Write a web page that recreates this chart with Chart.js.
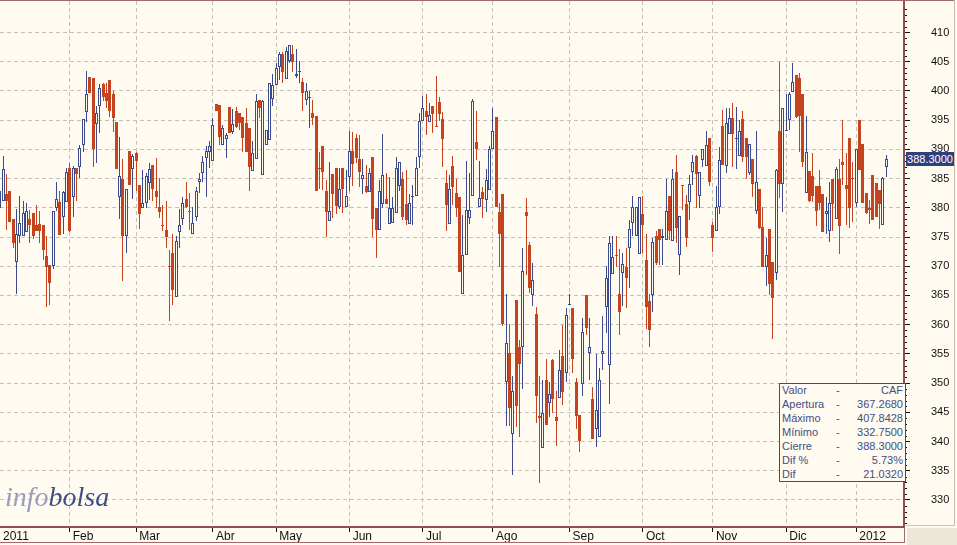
<!DOCTYPE html>
<html lang="es">
<head>
<meta charset="utf-8">
<title>CAF - infobolsa</title>
<style>
  html, body { margin: 0; padding: 0; background: #fffbf0; }
  #wrap { position: relative; width: 957px; height: 545px; overflow: hidden; background: #fffbf0; font-family: "Liberation Sans", Arial, sans-serif; }
  #grafico { position: absolute; left: 0; top: 0; }
  #marco-sup { position: absolute; left: 0; top: 0; width: 955px; height: 1px; background: #a06a6a; }
  #marco-der { position: absolute; left: 954px; top: 0; width: 1px; height: 526px; background: #c8b8a8; }
  #marco-inf { position: absolute; left: 906px; top: 525px; width: 49px; height: 1px; background: #c8c4b8; }
  #esquina { position: absolute; left: 907px; top: 528px; width: 50px; height: 17px; background: #ebe8d8; }
  #pie { position: absolute; left: 0; top: 542px; width: 905px; height: 1px; background: #a06a6a; }
  #pie-der { position: absolute; left: 904px; top: 527px; width: 1px; height: 16px; background: #a06a6a; }
  #precio { position: absolute; left: 906px; top: 152px; width: 48px; height: 14px; line-height: 14px; background: #2f3f80; color: #fff; font-size: 11px; text-align: center; }
  #ficha { position: absolute; left: 779px; top: 383px; width: 125px; height: 97px; border: 1px solid #3b4a8a; background: #fffbf0; color: #454d82; font-size: 11px; }
  #ficha div { position: relative; top: -1px; height: 14px; line-height: 14px; }
  #ficha .n { position: absolute; left: 2px; }
  #ficha .g { position: absolute; left: 56px; }
  #ficha .v { position: absolute; right: 2px; }
  #marca { position: absolute; left: 5px; top: 480px; font-family: "Liberation Serif", serif; font-style: italic; font-size: 28px; line-height: 34px; }
  #marca .a { color: #9a9cc0; }
  #marca .b { color: #3d4f86; }
</style>
</head>
<body>
<div id="wrap">
  <canvas id="grafico" width="957" height="545"></canvas>
  <div id="esquina"></div>
  <div id="marco-sup"></div>
  <div id="marco-der"></div>
  <div id="marco-inf"></div>
  <div id="pie"></div>
  <div id="pie-der"></div>
  <div id="precio">388.3000</div>
  <div id="ficha"></div>
  <div id="marca"><span class="a">info</span><span class="b">bolsa</span></div>
</div>
<script src="https://cdn.jsdelivr.net/npm/chart.js@4/dist/chart.umd.min.js"></script>
<script>
const opens = [
  380.0,381.1,382.4,382.9,378.0,370.7,375.1,375.2,375.8,378.0,
  379.1,377.1,377.2,377.1,371.8,370.2,370.1,379.9,381.0,378.4,
  381.0,386.8,381.9,386.8,387.0,390.7,396.4,402.4,402.2,394.3,
  397.5,401.2,399.6,401.8,399.5,394.7,381.9,384.9,375.1,389.7,
  386.6,389.3,383.9,379.9,380.8,384.3,387.3,382.8,380.2,377.0,
  376.2,370.1,372.2,364.8,375.9,378.0,381.5,379.4,375.5,378.5,
  384.5,386.0,388.6,389.6,388.0,397.7,397.6,390.7,391.7,397.3,
  393.0,396.5,396.3,395.5,394.6,393.6,386.3,388.4,398.4,385.7,
  390.7,391.6,398.6,401.0,404.1,406.4,402.1,405.2,406.4,402.5,
  403.3,401.6,398.4,398.8,396.2,395.7,386.8,390.6,382.8,377.7,
  385.8,386.8,380.1,386.8,380.1,385.3,389.7,392.0,388.3,384.9,
  383.7,382.7,388.7,379.9,376.2,380.7,381.5,377.2,377.4,379.1,
  383.8,384.9,380.7,377.2,382.0,382.0,388.7,394.8,396.5,394.7,
  397.4,394.0,398.1,395.2,384.2,377.2,387.2,382.5,381.8,365.2,
  372.0,378.3,382.0,391.3,380.2,382.7,381.3,383.1,390.1,395.6,
  379.2,382.3,350.2,355.2,341.2,364.2,356.1,356.1,379.2,373.6,
  365.1,361.9,344.4,338.8,350.6,346.6,353.9,344.2,347.4,354.7,
  351.8,363.4,362.8,350.2,344.5,349.8,365.0,355.2,347.2,342.2,
  340.8,354.9,363.1,353.1,368.6,372.0,365.2,368.9,369.8,373.2,
  377.4,375.1,372.1,379.0,371.0,364.1,365.1,375.1,376.3,374.9,
  374.5,382.1,374.3,386.1,372.0,383.9,380.6,381.0,386.1,388.8,
  382.1,388.1,387.1,391.9,377.0,376.1,380.1,394.0,387.1,392.6,
  395.3,391.7,388.9,395.2,391.9,386.0,388.3,379.5,383.2,376.7,
  369.9,376.3,370.7,368.9,393.1,384.0,393.1,395.0,399.9,402.7,
  402.3,399.4,382.5,386.3,385.4,383.8,383.8,382.3,378.9,376.1,
  384.9,378.0,384.9,387.9,383.9,391.9,385.1,380.9,395.0,391.0,
  382.6,380.0,385.7,384.3,383.0,377.1,387.0
];
const highs = [
  384.0,388.8,385.8,382.9,378.0,379.8,382.0,381.2,380.9,379.6,
  379.1,380.5,379.5,377.1,375.1,370.2,379.4,384.4,382.8,382.8,
  386.8,387.6,387.2,386.8,390.8,395.2,403.4,402.4,402.2,397.4,
  401.2,401.3,401.3,401.8,400.0,394.7,392.1,388.3,383.2,389.7,
  389.2,389.5,383.9,386.4,385.9,387.6,387.3,388.5,385.1,380.5,
  381.1,372.8,375.6,375.2,379.8,381.8,384.4,382.6,380.2,383.6,
  386.0,388.8,390.5,391.5,395.3,397.7,397.6,394.2,392.8,397.3,
  396.9,397.3,396.3,395.5,397.0,393.6,391.5,399.5,398.4,398.5,
  393.3,401.3,402.9,404.8,406.6,406.6,407.5,407.8,407.8,407.1,
  405.2,402.2,401.3,400.0,398.5,395.7,389.6,390.6,384.8,387.8,
  385.8,386.8,386.8,386.8,386.5,393.1,392.9,392.7,392.4,388.3,
  387.3,386.8,388.7,379.9,384.8,392.7,386.0,385.2,381.9,388.7,
  387.8,386.2,386.5,382.4,383.9,388.7,396.2,399.2,399.5,397.9,
  397.4,402.5,398.9,396.4,386.5,385.6,388.9,384.9,381.8,378.8,
  388.0,386.0,398.7,396.6,388.0,383.5,386.6,390.6,397.0,395.6,
  380.8,382.3,365.2,360.1,351.2,364.3,357.4,373.2,381.6,374.2,
  370.6,363.1,351.2,350.6,354.1,350.1,354.2,348.6,355.6,359.9,
  362.8,365.3,362.8,350.8,344.5,361.2,365.0,361.1,349.3,354.9,
  352.6,361.4,370.0,375.2,375.2,375.2,372.9,372.3,373.2,377.9,
  382.0,380.2,381.9,382.1,375.5,365.2,374.9,376.0,376.3,376.3,
  385.0,382.1,386.6,389.0,378.6,383.9,382.2,385.6,389.0,389.0,
  386.2,390.0,393.1,391.9,377.6,383.7,390.4,396.8,397.0,397.0,
  397.9,397.2,395.0,396.6,391.9,391.0,388.3,393.1,383.2,380.1,
  374.9,376.3,370.7,386.7,405.0,397.0,399.4,399.9,404.8,402.7,
  403.0,399.4,395.7,386.3,389.3,383.8,386.5,382.3,381.8,384.4,
  384.9,386.9,388.4,395.0,389.3,391.9,387.9,390.0,395.0,391.0,
  382.6,381.3,385.7,384.3,383.0,385.3,389.0
];
const lows = [
  379.5,381.1,376.2,377.5,373.1,365.3,374.0,375.1,375.8,374.0,
  374.6,376.1,374.0,371.0,363.0,363.4,369.5,379.4,375.3,375.5,
  381.0,375.9,378.4,381.1,385.1,389.6,394.7,399.6,387.0,387.7,
  392.8,398.2,397.0,395.5,393.0,386.6,378.0,367.4,372.3,383.9,
  381.5,382.9,376.4,379.9,379.9,381.4,381.2,379.9,378.2,376.1,
  373.1,360.7,363.4,364.8,373.2,377.1,379.9,376.2,375.5,377.8,
  382.5,384.5,381.9,386.8,388.0,396.5,390.8,390.7,388.6,392.8,
  392.7,393.6,393.3,389.6,389.6,382.9,386.3,388.4,395.4,385.7,
  390.7,391.6,397.4,401.0,401.8,401.3,402.1,404.8,403.3,402.2,
  401.4,396.5,397.6,393.6,394.2,382.8,383.3,383.1,375.0,377.7,
  378.2,379.0,379.8,379.1,380.1,382.8,383.7,387.6,383.6,382.3,
  382.5,382.7,375.0,371.4,376.2,379.9,380.7,377.2,377.4,379.1,
  382.8,377.9,377.1,377.2,377.1,382.0,386.8,394.8,392.5,394.7,
  392.8,393.9,394.9,387.0,376.1,377.2,380.5,378.5,369.0,365.2,
  372.0,377.3,382.0,388.2,380.2,378.3,379.2,383.1,390.1,380.2,
  369.9,359.7,342.6,342.6,334.3,342.4,340.8,349.0,368.5,365.4,
  363.2,343.2,332.9,338.8,342.9,344.2,344.8,339.2,347.4,346.3,
  350.2,363.4,351.7,342.1,338.2,347.8,358.2,350.5,340.5,339.0,
  340.8,352.2,358.6,346.4,368.6,369.8,358.2,363.2,362.9,366.3,
  375.2,375.1,372.1,372.3,359.3,356.2,362.2,370.2,370.2,370.2,
  374.5,374.5,374.3,374.0,368.5,379.7,373.3,377.9,383.9,380.0,
  380.0,387.0,387.1,383.7,372.5,376.1,379.0,387.3,386.0,392.6,
  387.0,386.7,388.9,387.9,384.9,385.6,381.9,379.0,376.3,369.9,
  366.6,365.0,357.6,367.7,381.6,379.3,393.1,393.4,399.9,395.3,
  389.6,387.0,382.5,381.0,381.0,376.9,379.6,375.9,375.6,374.2,
  376.1,378.0,372.1,383.9,377.0,376.6,377.6,380.1,386.5,380.9,
  379.0,377.2,377.9,378.5,376.4,377.1,385.3
];
const closes = [
  382.9,386.6,381.2,377.5,374.0,375.5,377.4,379.1,379.4,377.0,
  375.2,376.1,376.1,372.8,369.9,367.2,379.4,381.5,375.4,382.7,
  386.1,376.1,386.8,385.8,390.3,395.2,399.4,399.7,390.1,396.2,
  400.5,399.0,398.2,396.5,395.3,386.6,385.5,375.1,383.2,383.9,
  388.8,388.0,378.9,380.8,385.5,386.6,383.3,381.9,379.2,376.9,
  375.0,369.9,365.9,374.4,377.0,380.9,380.1,379.2,377.4,382.9,
  384.9,387.8,389.7,390.5,394.1,396.5,392.1,393.6,392.4,392.8,
  394.3,393.9,394.6,391.9,389.6,386.9,389.3,398.3,397.0,398.3,
  393.3,401.3,401.0,404.0,406.4,403.3,406.9,407.8,404.9,402.9,
  403.4,399.7,400.0,398.9,395.4,382.8,386.7,386.1,379.2,379.4,
  382.3,380.3,383.3,383.3,382.0,389.7,387.5,388.5,386.2,385.7,
  382.7,385.9,378.0,376.2,382.8,385.7,380.7,379.9,379.9,386.8,
  387.8,378.5,377.9,380.8,382.1,386.8,394.8,397.0,395.6,395.9,
  396.1,393.9,396.1,391.7,380.5,383.3,383.5,379.9,369.0,372.0,
  379.6,379.7,398.2,390.0,381.7,381.5,384.8,390.1,393.1,380.2,
  375.6,360.1,356.9,345.7,348.6,346.0,353.3,369.1,378.6,366.3,
  367.7,347.8,344.0,344.8,342.9,348.1,347.3,343.5,352.2,348.5,
  361.7,363.6,354.2,344.4,340.1,358.8,359.4,356.1,340.5,345.4,
  350.6,355.5,368.0,374.0,371.5,371.8,362.2,370.4,368.0,376.3,
  380.2,380.2,381.9,377.1,363.0,359.1,374.1,370.5,374.5,375.2,
  379.5,376.0,385.0,376.6,378.6,383.8,374.9,384.0,387.8,385.8,
  386.2,390.0,390.7,384.5,374.9,380.1,388.1,387.4,394.6,395.3,
  392.6,392.0,393.1,388.7,388.7,391.0,384.0,384.5,376.5,369.9,
  372.0,366.9,364.5,386.4,384.0,397.0,393.4,399.5,401.6,395.6,
  395.8,387.9,389.5,381.2,382.1,379.5,380.9,375.9,379.5,380.9,
  380.7,386.6,376.9,387.4,383.3,380.0,385.0,390.0,386.5,380.9,
  379.1,379.6,377.9,378.5,380.6,385.1,388.3
];

// indice de la primera sesion de cada mes
const monthStarts = [0.1, 21, 41, 64, 83, 105, 127, 148, 171, 193, 214, 236, 257];
const monthLabels = ["2011", "Feb", "Mar", "Abr", "May", "Jun", "Jul", "Ago", "Sep", "Oct", "Nov", "Dic", "2012"];
const priceTicks = [330, 335, 340, 345, 350, 355, 360, 365, 370, 375, 380, 385, 390, 395, 400, 405, 410];

const summaryNames = ["Valor", "Apertura", "Máximo", "Mínimo", "Cierre", "Dif %", "Dif"];
const summaryValues = ["CAF", "367.2680", "407.8428", "332.7500", "388.3000", "5.73%", "21.0320"];

const BLUE = "#3b4a8a";
const ORANGE = "#c5441f";
const CREAM = "#fffbf0";
const AXIS = "#8f4f4f";
const GRID = "#c4c2b8";

// ficha de resumen
const ficha = document.getElementById("ficha");
summaryNames.forEach((n, i) => {
  const row = document.createElement("div");
  row.innerHTML = `<span class="n">${n}</span><span class="g">-</span><span class="v">${summaryValues[i]}</span>`;
  ficha.appendChild(row);
});

const isUp = i => closes[i] >= opens[i];

// velas nitidas: lleva cada barra al pixel entero, como en el original
const snapBars = {
  id: "snapBars",
  beforeDatasetsDraw(chart) {
    chart.getSortedVisibleDatasetMetas().forEach(meta => {
      meta.data.forEach(el => {
        el.x = Math.floor(el.x) + 0.5;
        el.y = Math.round(el.y);
        el.base = Math.round(el.base);
        if (Math.abs(el.base - el.y) < 1) el.base = el.y + 1;
      });
    });
  }
};

// marcas menores del eje de precios, una por unidad
const minorTicks = {
  id: "minorTicks",
  afterDraw(chart) {
    const y = chart.scales.y;
    const ctx = chart.ctx;
    ctx.save();
    ctx.fillStyle = "#111";
    for (let v = Math.ceil(y.min); v <= y.max; v++) {
      if (v % 5 === 0) continue;
      ctx.fillRect(y.left + 1, Math.round(y.getPixelForValue(v)), 2, 1);
    }
    ctx.restore();
  }
};

new Chart(document.getElementById("grafico"), {
  type: "bar",
  data: {
    datasets: [
      {
        label: "Cuerpo",
        data: closes.map((c, i) => ({ x: i, y: [opens[i], c] })),
        grouped: false,
        barThickness: 3,
        borderWidth: 1,
        borderSkipped: false,
        inflateAmount: 0,
        backgroundColor: ctx => isUp(ctx.dataIndex) ? CREAM : ORANGE,
        borderColor: ctx => isUp(ctx.dataIndex) ? BLUE : ORANGE,
        order: 0
      },
      {
        label: "Mecha",
        data: highs.map((h, i) => ({ x: i, y: [lows[i], h] })),
        grouped: false,
        barThickness: 1,
        borderWidth: 0,
        inflateAmount: 0,
        backgroundColor: ctx => isUp(ctx.dataIndex) ? BLUE : ORANGE,
        order: 1
      }
    ]
  },
  options: {
    responsive: false,
    animation: false,
    layout: { padding: { top: 1, left: 0, right: 0, bottom: 0 } },
    plugins: { legend: { display: false }, tooltip: { enabled: false } },
    scales: {
      x: {
        type: "linear",
        offset: false,
        min: 0.096,
        max: 271.326,
        afterBuildTicks: scale => { scale.ticks = monthStarts.map(v => ({ value: v })); },
        afterFit: scale => {
          scale.height = 18;
          scale.paddingLeft = 0;
          scale.paddingRight = 0;
        },
        grid: {
          offset: false,
          color: c => c.index === 0 ? "transparent" : GRID,
          tickColor: c => c.index === 0 ? "transparent" : "#111",
          tickLength: 5,
          tickBorderDash: []
        },
        border: { color: AXIS, width: 2, dash: [4, 3] },
        ticks: {
          autoSkip: false,
          maxRotation: 0,
          align: "start",
          labelOffset: 3,
          padding: -3,
          color: "#111",
          font: { family: "Liberation Sans", size: 12 },
          callback: (v, i) => monthLabels[i]
        }
      },
      y: {
        position: "right",
        min: 325.36,
        max: 415.4,
        afterBuildTicks: scale => { scale.ticks = priceTicks.map(v => ({ value: v })); },
        afterFit: scale => {
          scale.width = 53;
          scale.paddingTop = 0;
          scale.paddingBottom = 0;
        },
        grid: { color: GRID, tickColor: "#111", tickLength: 6, tickBorderDash: [] },
        border: { color: AXIS, width: 2, dash: [4, 3] },
        ticks: {
          autoSkip: false,
          padding: 21,
          color: "#111",
          font: { family: "Liberation Sans", size: 11 }
        }
      }
    }
  },
  plugins: [snapBars, minorTicks]
});
</script>
</body>
</html>
